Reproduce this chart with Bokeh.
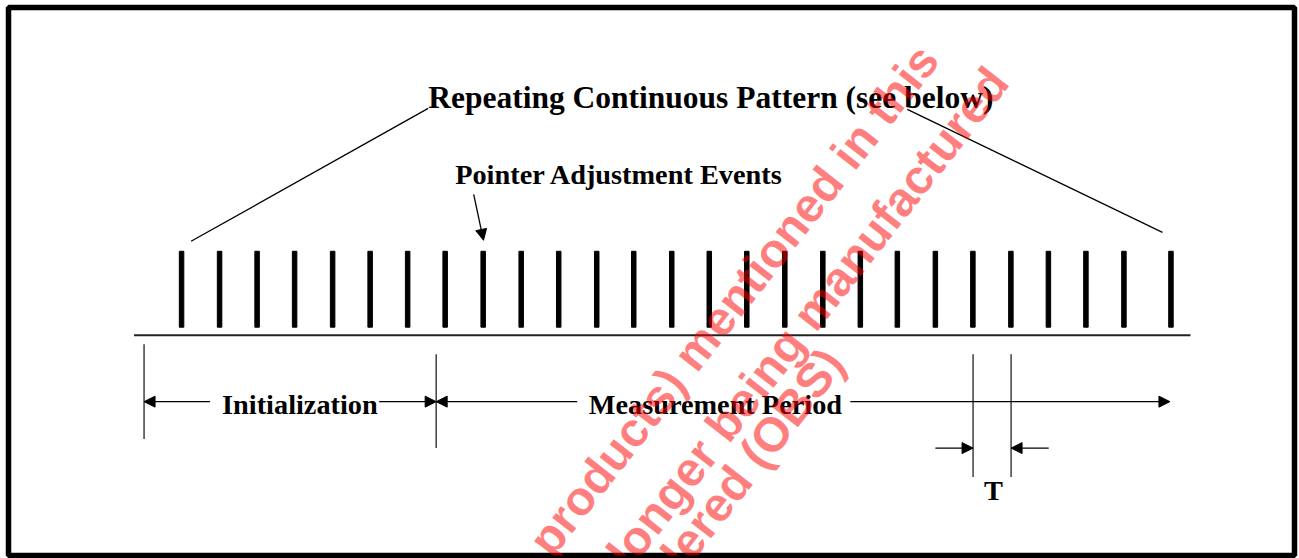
import math
from bokeh.plotting import figure
from bokeh.models import Range1d, Arrow, NormalHead
from bokeh.core.properties import value
from bokeh.embed import file_html
from bokeh.resources import INLINE

# ---- data (diagram units = picture pixels) ----
event_x = [181.5, 219.5, 257, 294.5, 332.5, 370, 407.5, 445, 483, 521,
           558.5, 596.5, 633.5, 671.5, 709, 746.5, 784.5, 822.5, 860, 897,
           935, 972.5, 1010.5, 1048, 1085.5, 1123.5, 1170.5]
init_start = 144
meas_start = 436
meas_end = 1169.5
period_T = [972.7, 1010.7]

title_label = "Repeating Continuous Pattern (see below)"
pointer_label = "Pointer Adjustment Events"
init_label = "Initialization"
meas_label = "Measurement Period"
t_label = "T"
watermark_lines = ["products) mentioned in this",
                   "longer being manufactured",
                   "considered (OBS)"]

W, H = 1299, 558
p = figure(width=W, height=H, output_backend="svg", toolbar_location=None,
           x_range=Range1d(8.5, 1294), y_range=Range1d(555.5, 7),
           x_axis_type=None, y_axis_type=None,
           min_border_left=8, min_border_right=5, min_border_top=7, min_border_bottom=3,
           background_fill_color="white", border_fill_color="white")
p.grid.visible = False
p.outline_line_color = "black"
p.outline_line_width = 5.5

SERIF = value("Liberation Serif")
SANS = value("Liberation Sans")

# event bars
p.vbar(x=event_x, width=4.5, bottom=327, top=251, color="black")
# baseline
p.line(x=[134, 1190], y=[335, 335], line_color="#222222", line_width=2)
# diagonal leader lines
p.line(x=[191, 428], y=[241, 108], line_color="black", line_width=1.3)
p.line(x=[907, 1162], y=[109, 232], line_color="black", line_width=1.3)

# dimension verticals
p.segment(x0=[init_start, meas_start] + period_T,
          y0=[344, 354, 354, 354],
          x1=[init_start, meas_start] + period_T,
          y1=[439, 448, 477, 477], line_color="#222222", line_width=1.3)

def arrow(xs, ys, xe, ye):
    p.add_layout(Arrow(x_start=xs, y_start=ys, x_end=xe, y_end=ye,
                       end=NormalHead(size=11, fill_color="black", line_color="black", line_width=1),
                       line_color="black", line_width=1.3))

arrow(473.5, 194, 483.3, 240)
arrow(210, 401.5, init_start, 401.5)
arrow(379, 401.5, meas_start, 401.5)
arrow(577, 401.5, meas_start, 401.5)
arrow(850, 401.5, meas_end, 401.5)
arrow(935, 448, period_T[0], 448)
arrow(1048.3, 448, period_T[1], 448)

FIX = 0.37  # empirical baseline correction for horizontal labels (fraction of font size)

def label(xs, ys, texts, size, align="left"):
    p.text(x=xs, y=[y - FIX * size for y in ys], text=texts, text_font=SERIF,
           text_font_style="bold", text_font_size=f"{size}px",
           text_baseline="alphabetic", text_align=align, text_color="black")

label([428], [108.5], [title_label], 31.5)
label([455, 222, 588.5], [184.3, 415, 415], [pointer_label, init_label, meas_label], 28.3)
label([993], [500.7], [t_label], 28.3, align="center")

# watermark (drawn last, on top)
p.text(x=[539, 617, 584], y=[549, 561, 674],
       text=watermark_lines, angle=52, angle_units="deg",
       text_font=SANS, text_font_style="bold", text_font_size="48px",
       text_baseline="alphabetic", text_align="left", text_color="red", text_alpha=0.5)

open("out.html", "w").write(file_html(p, INLINE))
